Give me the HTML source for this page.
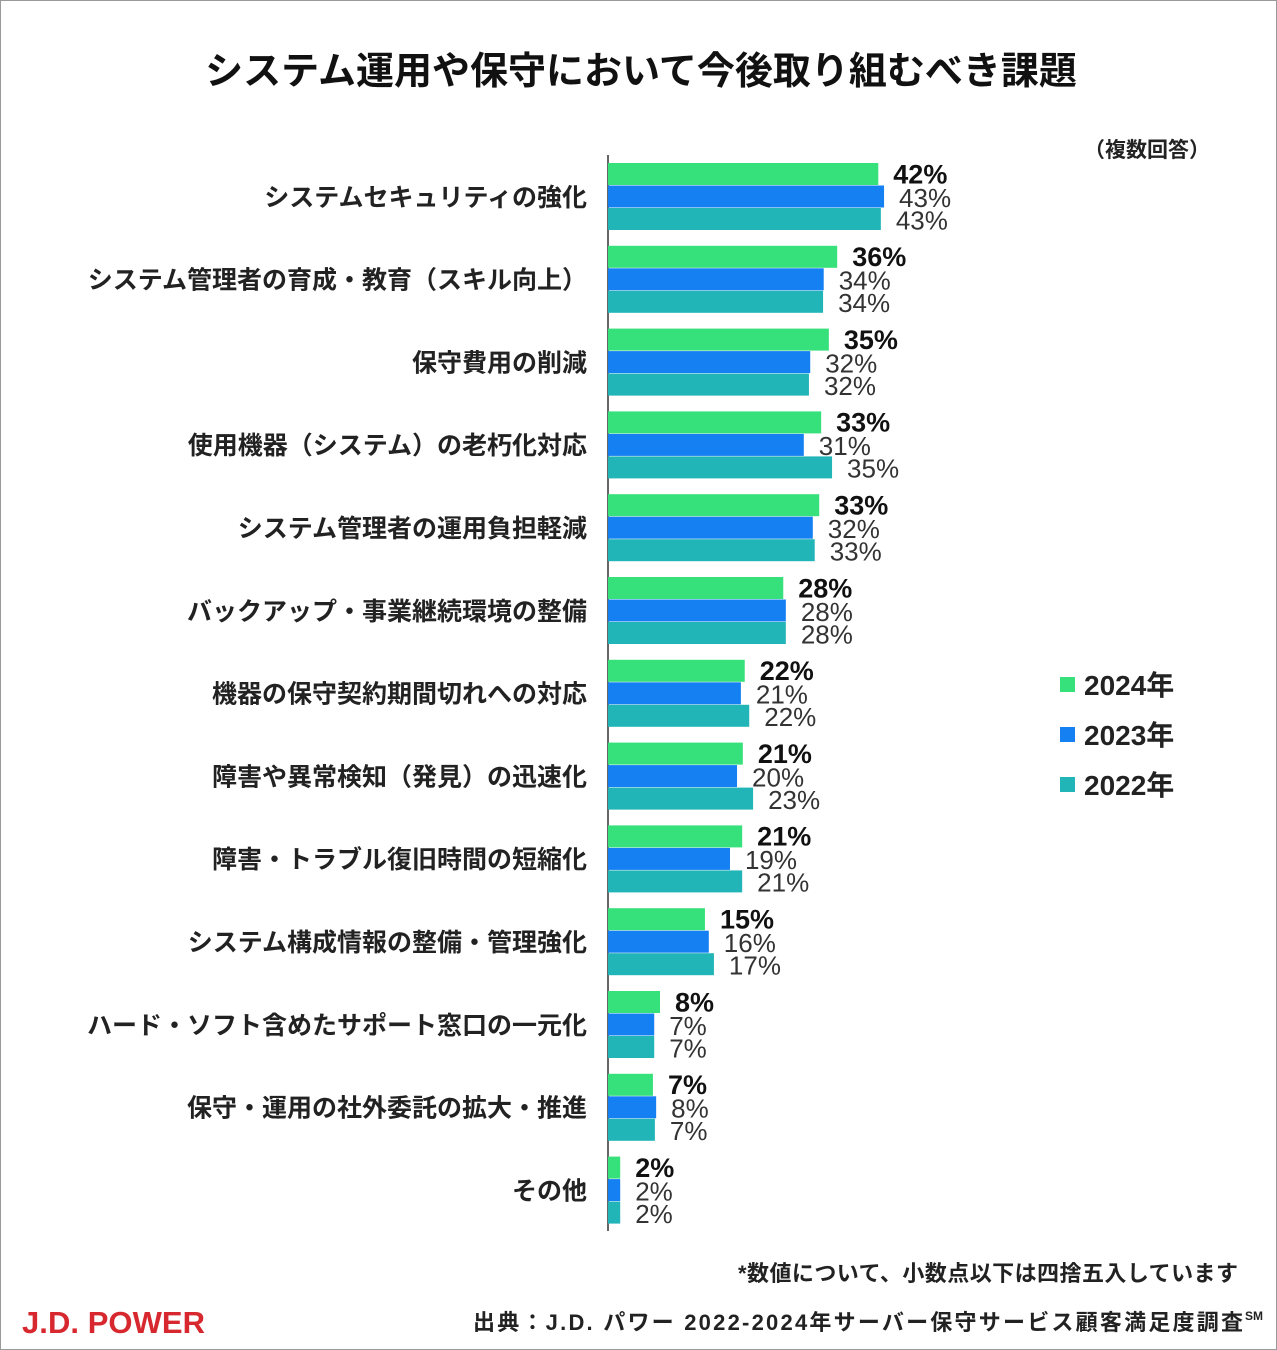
<!DOCTYPE html>
<html><head><meta charset="utf-8">
<style>
html,body{margin:0;padding:0;background:#fff;}
body{width:1277px;height:1350px;overflow:hidden;position:relative;font-family:"Liberation Sans","Noto Sans CJK JP",sans-serif;}
#frame{position:absolute;left:0;top:0;width:1275px;height:1348px;border:1px solid #999;}
svg text{font-family:"Liberation Sans","Noto Sans CJK JP",sans-serif;}
</style></head>
<body>
<div id="frame"></div>
<svg id="chart" width="1277" height="1350" style="position:absolute;left:0;top:0">
<text x="641" y="84" text-anchor="middle" font-size="38" font-weight="bold" fill="#111">システム運用や保守において今後取り組むべき課題</text>
<text x="1210" y="157" text-anchor="end" font-size="21" font-weight="bold" fill="#222">（複数回答）</text>
<line x1="608" y1="155" x2="608" y2="1231" stroke="#333" stroke-width="1.5"/>
<g id="bars"></g>
<g>
<rect x="1060" y="677" width="15" height="15" fill="#36e07a"/>
<text x="1084" y="695" font-size="28" font-weight="bold" fill="#222">2024年</text>
<rect x="1060" y="727" width="15" height="15" fill="#1580f2"/>
<text x="1084" y="745" font-size="28" font-weight="bold" fill="#222">2023年</text>
<rect x="1060" y="777" width="15" height="15" fill="#22b5b8"/>
<text x="1084" y="795" font-size="28" font-weight="bold" fill="#222">2022年</text>
</g>
<text x="1238" y="1281" text-anchor="end" font-size="22" font-weight="bold" fill="#222" textLength="500">*数値について、小数点以下は四捨五入しています</text>
<text x="22" y="1333" font-size="31" font-weight="bold" fill="#d7282f" textLength="183">J.D. POWER</text>
<text x="473" y="1330" font-size="22" font-weight="bold" fill="#222" textLength="770">出典：J.D. パワー 2022-2024年サーバー保守サービス顧客満足度調査</text>
<text x="1245" y="1320" font-size="12" font-weight="bold" fill="#222">SM</text>
</svg>
<script>
const categories=["システムセキュリティの強化","システム管理者の育成・教育（スキル向上）","保守費用の削減","使用機器（システム）の老朽化対応","システム管理者の運用負担軽減","バックアップ・事業継続環境の整備","機器の保守契約期間切れへの対応","障害や異常検知（発見）の迅速化","障害・トラブル復旧時間の短縮化","システム構成情報の整備・管理強化","ハード・ソフト含めたサポート窓口の一元化","保守・運用の社外委託の拡大・推進","その他"];
const values2024=[42.1,35.7,34.4,33.2,32.9,27.3,21.3,21.0,20.9,15.1,8.1,7.0,1.9];
const values2023=[43.0,33.6,31.5,30.5,31.9,27.7,20.7,20.1,19.0,15.7,7.2,7.5,1.9];
const values2022=[42.5,33.5,31.3,34.9,32.2,27.7,22.0,22.6,20.9,16.5,7.2,7.3,1.9];
const labels2024=["42%","36%","35%","33%","33%","28%","22%","21%","21%","15%","8%","7%","2%"];
const labels2023=["43%","34%","32%","31%","32%","28%","21%","20%","19%","16%","7%","8%","2%"];
const labels2022=["43%","34%","32%","35%","33%","28%","22%","23%","21%","17%","7%","7%","2%"];
const x0=608, pxPer=6.42, top0=163, pitch=82.8, bh=22.5;
function xs(v){return x0+v*pxPer;}
function rowY(i){return top0+i*pitch;}
const NS="http://www.w3.org/2000/svg";
const g=document.getElementById('bars');
function mk(tag,attrs){const e=document.createElementNS(NS,tag);for(const k in attrs)e.setAttribute(k,attrs[k]);g.appendChild(e);return e;}
const series=[[values2024,labels2024,"#36e07a","2024",true],[values2023,labels2023,"#1580f2","2023",false],[values2022,labels2022,"#22b5b8","2022",false]];
categories.forEach((c,i)=>{
  const y=rowY(i);
  const t=mk('text',{x:587,y:y+bh*1.5+9,'text-anchor':'end','font-size':25,'font-weight':'bold',fill:'#222'});
  t.textContent=c;
  
  
  series.forEach((s,j)=>{
    const by=y+j*bh;
    const r=mk('rect',{x:x0,y:by,width:xs(s[0][i])-x0,height:bh-0.5,fill:s[2]});
    
    
    const tl=mk('text',{x:xs(s[0][i])+15,y:by+bh/2+(s[4]?9:10),'font-size':s[4]?27:26,'font-weight':s[4]?'bold':'normal',fill:s[4]?'#111':'#333'});
    tl.textContent=s[1][i];
    
    
  });
});
</script>
</body></html>
